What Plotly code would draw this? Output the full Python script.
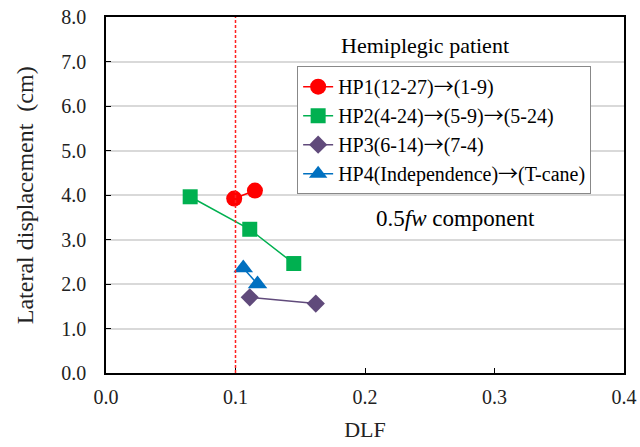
import plotly.graph_objects as go

hp1_x = [0.099, 0.115]
hp1_y = [3.92, 4.10]
hp2_x = [0.065, 0.111, 0.145]
hp2_y = [3.96, 3.23, 2.46]
hp3_x = [0.111, 0.162]
hp3_y = [1.70, 1.56]
hp4_x = [0.106, 0.117]
hp4_y = [2.36, 2.00]

ARR = '<span style="font-family:Noto Sans CJK JP">→</span>'
names = [f"HP1(12-27){ARR}(1-9)", f"HP2(4-24){ARR}(5-9){ARR}(5-24)",
         f"HP3(6-14){ARR}(7-4)", f"HP4(Independence){ARR}(T-cane)"]
colors = ["#FF0000", "#00B050", "#604A7B", "#0070C0"]
symbols = ["circle", "square", "diamond", "triangle-up"]
sizes = [16, 15, 14, 17]
xs = [hp1_x, hp2_x, hp3_x, hp4_x]
ys = [hp1_y, hp2_y, hp3_y, hp4_y]

x_ticks = [0.0, 0.1, 0.2, 0.3, 0.4]
y_ticks = [0, 1, 2, 3, 4, 5, 6, 7, 8]

font = "Liberation Serif"

fig = go.Figure()
for n, c, s, sz, x, y in zip(names, colors, symbols, sizes, xs, ys):
    fig.add_trace(go.Scatter(x=x, y=y, name=n, mode="lines+markers",
                             line=dict(color=c, width=1.5),
                             marker=dict(color=c, symbol=s, size=sz)))

fig.add_shape(type="line", xref="x", yref="paper", x0=0.1, x1=0.1, y0=0, y1=1,
              line=dict(color="#FF2020", width=1.5, dash="3px,2px"), layer="above")

fig.add_annotation(x=0.246, y=7.37, text="Hemiplegic patient", showarrow=False,
                   font=dict(family=font, size=22, color="black"))
fig.add_annotation(x=0.27, y=3.48, text="0.5<i>fw</i> component", showarrow=False,
                   font=dict(family=font, size=23, color="black"))
fig.add_annotation(xref="paper", yref="paper", x=-0.156, y=0.5,
                   text="Lateral displacement  (cm)", showarrow=False, textangle=-90,
                   xanchor="center", yanchor="middle",
                   font=dict(family=font, size=24, color="#222"))

fig.update_layout(
    width=640, height=447,
    margin=dict(l=106, r=16, t=17, b=74),
    paper_bgcolor="white", plot_bgcolor="white",
    font=dict(family=font, size=20, color="#222"),
    showlegend=True,
    legend=dict(x=0.369, y=0.862, xanchor="left", yanchor="top",
                bordercolor="#888", borderwidth=1, bgcolor="white",
                font=dict(family=font, size=20, color="black"),
                tracegroupgap=0),
    xaxis=dict(range=[0, 0.4], tickvals=x_ticks,
               ticktext=[f"{v:.1f}" for v in x_ticks],
               showgrid=False, zeroline=False, showline=True, linecolor="black",
               linewidth=1.5, mirror=True, ticks="inside", ticklen=5, tickcolor="black",
               ticklabelstandoff=5, automargin=False,
               title=dict(text="DLF", font=dict(family=font, size=22))),
    yaxis=dict(range=[0, 8], tickvals=y_ticks,
               ticktext=[f"{v:.1f}" for v in y_ticks],
               showgrid=True, gridcolor="#D9D9D9", gridwidth=1.5, zeroline=False,
               showline=True, linecolor="black", linewidth=1.5, mirror=True,
               ticks="inside", ticklen=5, tickcolor="black",
               ticklabelstandoff=14, automargin=False),
)

fig.write_html("out.html")
